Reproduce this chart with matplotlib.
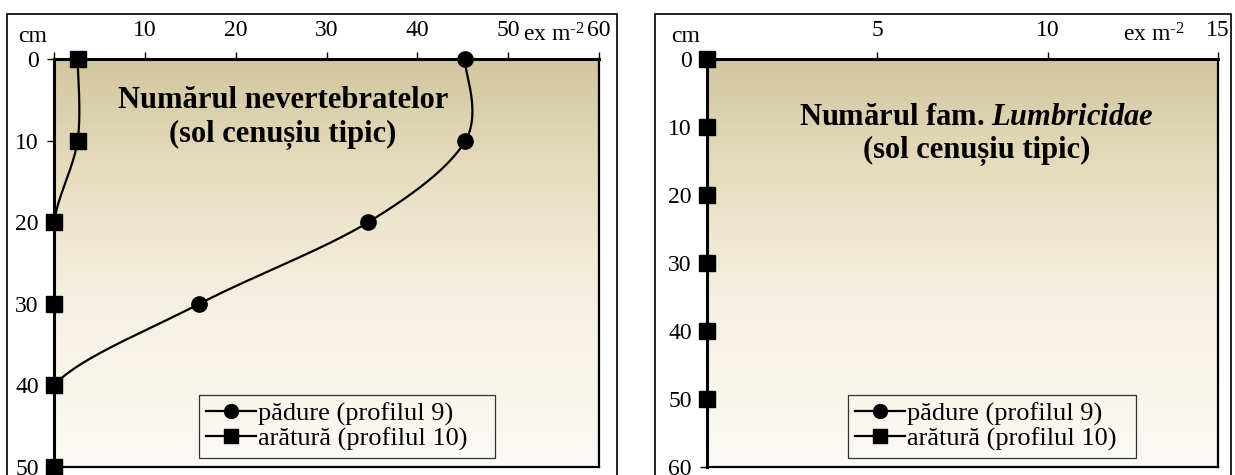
import numpy as np
import matplotlib.pyplot as plt
from matplotlib.colors import LinearSegmentedColormap
from matplotlib.patches import Rectangle

plt.rcParams["font.family"] = ["Liberation Serif", "DejaVu Serif"]
plt.rcParams["mathtext.fontset"] = "custom"
plt.rcParams["mathtext.rm"] = "Liberation Serif"
plt.rcParams["mathtext.it"] = "Liberation Serif:italic:bold"
plt.rcParams["mathtext.bf"] = "Liberation Serif:bold"

# left panel: invertebrate counts by depth
depth_inv = [0, 10, 20, 30, 40, 50]
padure_inv = [45.2, 45.3, 34.6, 16.0, 0.0, 0.0]
aratura_inv = [2.6, 2.6, 0.0, 0.0, 0.0, 0.0]

# right panel: Lumbricidae counts by depth
depth_lum = [0, 10, 20, 30, 40, 50]
padure_lum = [0, 0, 0, 0, 0, 0]
aratura_lum = [0, 0, 0, 0, 0, 0]

label_padure = "pădure (profilul 9)"
label_aratura = "arătură (profilul 10)"

W, H = 1235, 475
fig = plt.figure(figsize=(W / 100, H / 100), dpi=100)

bg = LinearSegmentedColormap.from_list(
    "soil", [(0.0, "#d2c69f"), (0.3, "#e8dfc2"), (0.6, "#f5f0e2"), (1.0, "#fcfaf6")]
)


def smooth(ax, xs, ys, n=40):
    """Bezier smoothing in screen space, like spreadsheet 'smoothed lines'."""
    pts = ax.transData.transform(np.column_stack([xs, ys]))
    out = []
    k = len(pts)
    for i in range(k - 1):
        p0 = pts[max(i - 1, 0)]
        p1 = pts[i]
        p2 = pts[i + 1]
        p3 = pts[min(i + 2, k - 1)]
        b1 = p1 + (p2 - p0) / 6
        b2 = p2 - (p3 - p1) / 6
        t = np.linspace(0, 1, n)[:, None]
        seg = ((1 - t) ** 3) * p1 + 3 * ((1 - t) ** 2) * t * b1 + 3 * (1 - t) * t ** 2 * b2 + t ** 3 * p2
        out.append(seg)
    out = np.vstack(out)
    data = ax.transData.inverted().transform(out)
    return data[:, 0], data[:, 1]


def panel(px, xmax, xticks, ymax, series, title, title_xy, xunit_x, leg_px, border):
    x0, x1 = px
    ax = fig.add_axes([x0 / W, 1 - 467 / H, (x1 - x0) / W, (467 - 59) / H])
    ax.set_xlim(0, xmax)
    ax.set_ylim(ymax, 0)
    ax.imshow(np.linspace(0, 1, 256)[:, None], aspect="auto", cmap=bg,
              extent=(0, 1, 0, 1), transform=ax.transAxes, zorder=0)
    ax.xaxis.tick_top()
    ax.set_xticks(xticks)
    ax.set_yticks(np.arange(0, ymax + 1, 10))
    ax.tick_params(axis="x", direction="out", length=5, width=1, labelsize=17, pad=8)
    ax.tick_params(axis="y", direction="out", length=5, width=1, labelsize=17, pad=6)
    ax.set_xticklabels(["" if t == 0 else str(t) for t in xticks])
    for s in ax.spines.values():
        s.set_linewidth(1.6)
    ax.spines["left"].set_linewidth(2.2)
    ax.spines["top"].set_linewidth(2.2)

    for xs, ys, marker, label in series:
        sx, sy = smooth(ax, xs, ys)
        ax.plot(sx, sy, color="black", lw=1.6, zorder=3)
        ax.plot(xs, ys, ls="none", marker=marker, ms=11, color="black",
                clip_on=False, zorder=4)
        ax.plot([], [], color="black", lw=1.6, marker=marker, ms=10, label=label)

    ax.text(title_xy[0], title_xy[1], title, transform=ax.transAxes, ha="center",
            va="center", fontsize=22, fontweight="bold", linespacing=1.22)
    ax.text(-0.013, 1.03, "cm", transform=ax.transAxes, ha="right", va="bottom", fontsize=17)
    ax.text(xunit_x, 1.03, r"ex m$^{\text{-2}}$", transform=ax.transAxes, ha="center",
            va="bottom", fontsize=17)

    lx0, lx1 = leg_px
    leg = ax.legend(loc="lower left", mode="expand",
                    bbox_to_anchor=((lx0 - x0) / (x1 - x0), 0.023,
                                    (lx1 - lx0) / (x1 - x0), 0.1),
                    fontsize=19, frameon=True, fancybox=False, edgecolor="black",
                    facecolor="none", handlelength=1.9, handletextpad=0.1,
                    borderpad=0.25, labelspacing=0.05, borderaxespad=0.0)
    leg.get_frame().set_linewidth(0.9)

    fig.patches.append(Rectangle((border[0] / W, -0.05), (border[1] - border[0]) / W,
                                 1 - border[2] / H + 0.05, transform=fig.transFigure,
                                 fill=False, edgecolor="black", lw=1.2))
    return ax


panel((54, 599), 60, [0, 10, 20, 30, 40, 50, 60], 50,
      [(padure_inv, depth_inv, "o", label_padure),
       (aratura_inv, depth_inv, "s", label_aratura)],
      "Numărul nevertebratelor\n(sol cenușiu tipic)", (0.42, 0.855),
      0.917, (199, 495), (7, 617, 14))

panel((707, 1218), 15, [0, 5, 10, 15], 60,
      [(padure_lum, depth_lum, "o", label_padure),
       (aratura_lum, depth_lum, "s", label_aratura)],
      "Numărul fam. $Lumbricidae$\n(sol cenușiu tipic)", (0.527, 0.815),
      0.875, (848, 1136), (655, 1231, 14))

fig.savefig("out.png", dpi=100)
